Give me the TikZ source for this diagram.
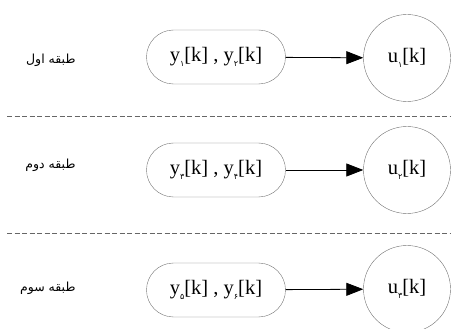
\documentclass[tikz,border=0pt]{standalone}
\usepackage{fontspec}
\setmainfont{Liberation Serif}
\newfontfamily\farsi[Script=Arabic]{DejaVu Sans}
\TeXXeTstate=1
\usetikzlibrary{arrows.meta}
\newcommand{\pdig}[1]{\raisebox{-0.45ex}{\fontsize{8}{9}\selectfont\farsi #1}}

\begin{document}
\begin{tikzpicture}[x=1pt, y=-1pt, font=\fontsize{20.5}{24}\selectfont,
  signals/.style={draw=black!55, rounded corners=27pt, minimum width=139pt, minimum height=54pt, align=center, inner sep=0pt},
  ctrl/.style={draw=black!55, circle, minimum size=87pt, align=center, inner sep=0pt},
  layer/.style={font=\fontsize{12.5}{15}\selectfont\farsi, anchor=east},
  sep/.style={draw=black!60, dash pattern=on 5pt off 2.5pt, line width=0.8pt},
  flow/.style={-{Triangle[length=17pt,width=13pt]}, line width=0.8pt}]
\useasboundingbox (0,0) rectangle (451,329);

% ノード(座標配置)
\node[signals] (y12) at (216,57)  {y\pdig{۱}[k] , y\pdig{۲}[k]};
\node[signals] (y34) at (216,170) {y\pdig{۳}[k] , y\pdig{۴}[k]};
\node[signals] (y56) at (216,290) {y\pdig{۵}[k] , y\pdig{۶}[k]};

\node[ctrl] (u1) at (407,58)  {u\pdig{۱}[k]};
\node[ctrl] (u2) at (407,170) {u\pdig{۲}[k]};
\node[ctrl] (u3) at (407,289) {u\pdig{۳}[k]};

% 矢印
\draw[flow] (y12) -- (u1);
\draw[flow] (y34) -- (u2);
\draw[flow] (y56) -- (u3);

% 注記
\node[layer] (l1) at (79,60)  {\beginR طبقه اول\endR};
\node[layer] (l2) at (79,165) {\beginR طبقه دوم\endR};
\node[layer] (l3) at (79,288) {\beginR طبقه سوم\endR};

% 区切り線
\coordinate (s1a) at (7,116);
\coordinate (s1b) at (451,116);
\coordinate (s2a) at (7,233);
\coordinate (s2b) at (451,233);
\draw[sep] (s1a) -- (s1b);
\draw[sep] (s2a) -- (s2b);
\end{tikzpicture}
\end{document}
